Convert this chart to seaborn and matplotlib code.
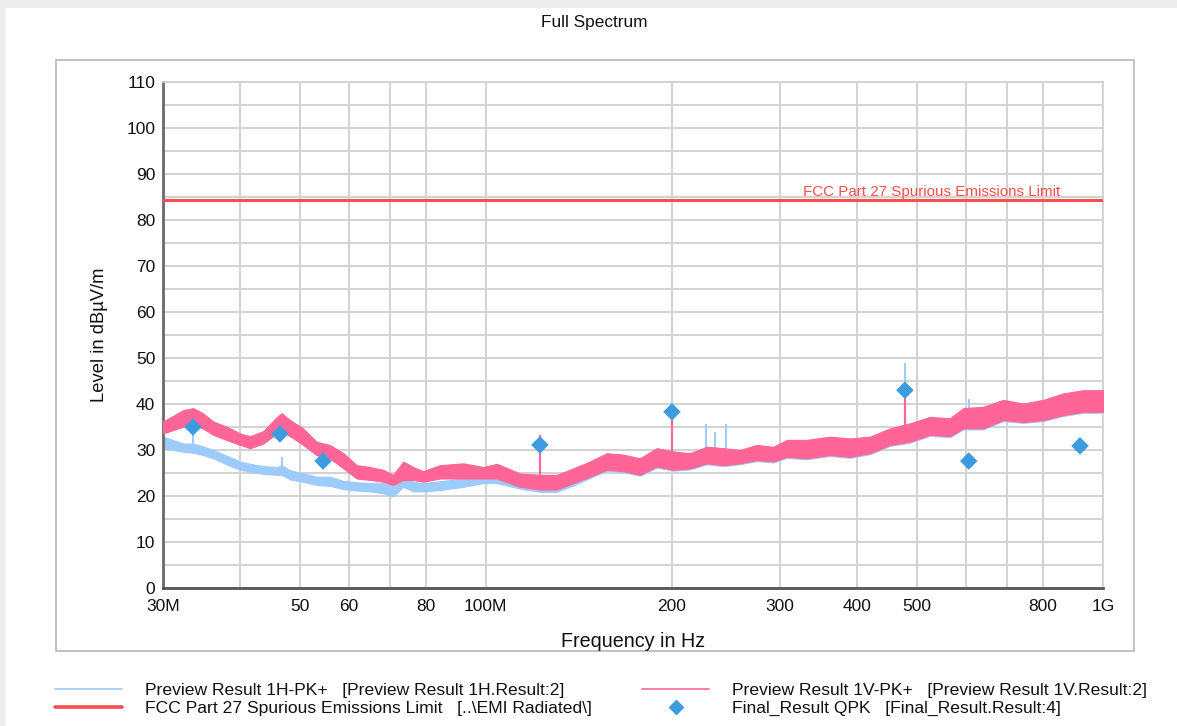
import matplotlib
matplotlib.use("Agg")
import matplotlib.pyplot as plt
from matplotlib.lines import Line2D
from matplotlib.patches import Rectangle
from matplotlib.ticker import FixedLocator, NullFormatter, MultipleLocator
import seaborn as sns
import pandas as pd

# ---------------- data ----------------
freq_mhz = [30, 32.4, 33.6, 34.8, 36.2, 38.0, 40.0, 41.5, 43.6, 45.9, 46.7, 48.2,
            50.6, 53.2, 55.9, 58.8, 61.8, 64.9, 68.2, 70.8, 73.5, 76.3, 79.2, 84.3,
            92.0, 99.1, 104.2, 113.6, 122.4, 130.3, 138.6, 147.5, 157.0, 167.0,
            177.8, 189.2, 201.2, 214.2, 228.0, 242.5, 258.1, 274.7, 292.3, 307.3,
            331.1, 361.1, 389.2, 419.3, 451.7, 486.9, 524.3, 565.0, 593.8, 639.9,
            689.3, 742.7, 800.3, 862.2, 929.0, 1000]

# Preview Result 1H-PK+ (light blue) upper / lower envelope, dBuV/m
h_upper = [32.9, 31.4, 31.4, 30.8, 30.0, 28.8, 27.5, 27.0, 26.5, 26.3, 26.7, 25.6,
           24.9, 24.2, 24.2, 23.3, 23.0, 22.8, 22.8, 22.4, 24.6, 23.1, 22.8, 23.2,
           23.8, 24.2, 24.6, 24.4, 24.0, 24.0, 25.6, 27.2, 29.0, 28.7,
           27.9, 30.1, 29.4, 29.0, 30.4, 30.1, 29.8, 30.8, 30.4, 31.9,
           31.9, 32.6, 32.2, 32.6, 34.4, 35.5, 36.9, 36.6, 38.8, 39.1,
           40.6, 39.8, 40.6, 42.0, 42.7, 42.7]
h_lower = [30.4, 29.6, 29.4, 28.9, 28.2, 26.9, 25.7, 25.3, 24.8, 24.6, 24.6, 23.6,
           23.1, 22.4, 22.2, 21.5, 21.2, 21.0, 20.6, 19.9, 22.0, 21.0, 21.0, 21.3,
           22.0, 22.8, 22.8, 21.6, 20.9, 20.9, 22.3, 23.9, 25.5, 25.2,
           24.4, 26.2, 25.5, 25.8, 26.9, 26.5, 26.9, 27.6, 27.3, 28.3,
           28.0, 28.7, 28.3, 29.1, 30.9, 31.6, 33.1, 32.8, 34.5, 34.5,
           36.3, 35.9, 36.3, 37.4, 38.1, 38.1]

# Preview Result 1V-PK+ (pink) upper / lower envelope, dBuV/m
v_upper = [36.2, 38.7, 39.1, 38.0, 36.2, 35.1, 33.6, 33.0, 34.1, 37.2, 38.0, 36.5,
           34.7, 31.8, 31.1, 29.3, 26.7, 26.3, 25.7, 24.6, 27.5, 26.3, 25.4, 26.7,
           27.1, 26.3, 27.0, 24.9, 24.6, 24.6, 26.0, 27.5, 29.3, 29.0,
           28.2, 30.4, 29.7, 29.3, 30.7, 30.4, 30.0, 31.1, 30.7, 32.2,
           32.2, 32.9, 32.5, 32.9, 34.7, 35.8, 37.2, 36.9, 39.1, 39.4,
           40.9, 40.1, 40.9, 42.3, 43.0, 43.0]
v_lower = [33.6, 35.1, 35.4, 34.7, 33.3, 32.2, 31.1, 30.4, 31.4, 33.6, 34.1, 33.0,
           31.1, 28.9, 28.2, 26.0, 23.8, 23.5, 23.1, 22.4, 23.5, 23.5, 23.1, 23.8,
           23.8, 23.8, 23.8, 22.0, 21.4, 21.4, 22.8, 24.2, 25.7, 25.4,
           24.6, 26.4, 25.7, 26.0, 27.1, 26.7, 27.1, 27.8, 27.5, 28.5,
           28.2, 28.9, 28.5, 29.3, 31.1, 31.8, 33.3, 33.0, 34.7, 34.7,
           36.5, 36.1, 36.5, 37.6, 38.3, 38.3]

# isolated spikes in the preview traces
h_spike_freq = [33.6, 46.7, 227.2, 235.1, 245.0, 477.6, 606.0]
h_spike_base = [30.0, 25.0, 28.0, 28.0, 28.0, 33.0, 36.0]
h_spike_peak = [33.3, 28.5, 35.6, 34.0, 35.6, 48.9, 41.0]
v_spike_freq = [122.4, 200.3, 477.6]
v_spike_base = [23.0, 27.0, 33.0]
v_spike_peak = [33.3, 38.0, 43.0]

# limit line
limit_freq = [30, 1000]
limit_level = [84.3, 84.3]

# Final_Result QPK
qpk_freq = [33.55, 46.4, 54.5, 122.4, 200.3, 477.6, 606.0, 917.7]
qpk_level = [35.0, 33.5, 27.6, 31.1, 38.3, 43.0, 27.6, 30.9]

x_ticks = [30, 40, 50, 60, 70, 80, 100, 200, 300, 400, 500, 600, 700, 800, 1000]
x_tick_labels = ["30M", "", "50", "60", "", "80", "100M", "200", "300", "400",
                 "500", "", "", "800", "1G"]

# ---------------- styling ----------------
sns.set_theme(style="white")
plt.rcParams["font.family"] = ["Liberation Sans", "DejaVu Sans"]

C_H = "#9dcbfb"
C_V = "#ff6697"
C_LIM = "#fb4d4d"
C_QPK = "#3d9be0"
C_GRID = "#d2d2d2"

W, H = 1177, 726
fig = plt.figure(figsize=(W / 100, H / 100), dpi=100, facecolor="white")

# light gray page edges and outer panel frame
fig.patches.append(Rectangle((0, 1 - 8 / H), 1, 8 / H, transform=fig.transFigure,
                             facecolor="#ececec", edgecolor="none", zorder=-3))
fig.patches.append(Rectangle((0, 0), 5 / W, 1, transform=fig.transFigure,
                             facecolor="#ececec", edgecolor="none", zorder=-3))
fig.patches.append(Rectangle((56 / W, 1 - 651 / H), (1134 - 56) / W, (651 - 60) / H,
                             transform=fig.transFigure, facecolor="white",
                             edgecolor="#bdbdbd", linewidth=1.3, zorder=-2))

ax = fig.add_axes([163 / W, 1 - 588 / H, 940 / W, 506 / H])
ax.set_zorder(2)
ax.set_xscale("log")
ax.set_xlim(30, 1000)
ax.set_ylim(0, 110)

# grid
ax.xaxis.set_major_locator(FixedLocator(x_ticks))
ax.xaxis.set_minor_locator(FixedLocator([]))
ax.set_xticks(x_ticks)
ax.set_xticklabels(x_tick_labels)
ax.xaxis.set_minor_formatter(NullFormatter())
ax.yaxis.set_major_locator(MultipleLocator(10))
ax.yaxis.set_minor_locator(MultipleLocator(5))
ax.grid(True, which="major", axis="both", color=C_GRID, linewidth=1.4)
ax.grid(True, which="minor", axis="y", color=C_GRID, linewidth=1.4)
ax.set_axisbelow(True)

# traces as envelope bands
ax.fill_between(freq_mhz, h_lower, h_upper, color=C_H, linewidth=0.8,
                edgecolor=C_H, zorder=2)
ax.vlines(h_spike_freq, h_spike_base, h_spike_peak, color=C_H, linewidth=1.4, zorder=2)
ax.fill_between(freq_mhz, v_lower, v_upper, color=C_V, linewidth=0.8,
                edgecolor=C_V, zorder=3)
ax.vlines(v_spike_freq, v_spike_base, v_spike_peak, color=C_V, linewidth=1.6, zorder=3)

# limit line
lim_df = pd.DataFrame({"f": limit_freq, "l": limit_level})
sns.lineplot(data=lim_df, x="f", y="l", ax=ax, color=C_LIM, linewidth=2.2, zorder=4)
ax.text(851.8, 84.6, "FCC Part 27 Spurious Emissions Limit", color=C_LIM,
        fontsize=10.9, ha="right", va="bottom", zorder=5)

# final QPK markers
qpk_df = pd.DataFrame({"f": qpk_freq, "l": qpk_level})
sns.scatterplot(data=qpk_df, x="f", y="l", ax=ax, marker="D", s=80,
                color=C_QPK, edgecolor="none", zorder=6)

# axes styling
for side in ["top", "right"]:
    ax.spines[side].set_color("#cfcfcf")
    ax.spines[side].set_linewidth(1.2)
ax.spines["left"].set_color("#6a6a6a")
ax.spines["left"].set_linewidth(2)
ax.spines["bottom"].set_color("#555555")
ax.spines["bottom"].set_linewidth(2)
ax.tick_params(axis="both", which="both", direction="inout", color="#333333",
               width=1.2, labelsize=12.5, labelcolor="#111111")
ax.tick_params(axis="y", which="major", length=9, pad=1)
ax.tick_params(axis="y", which="minor", length=9)
ax.tick_params(axis="x", which="major", length=8, pad=4)
ax.set_xlabel("Frequency in Hz", fontsize=14.2, color="#111111", labelpad=13)
ax.set_ylabel("Level in dBµV/m", fontsize=13.2, color="#111111", labelpad=13)

fig.text(594 / W, 1 - 23 / H, "Full Spectrum", ha="center", va="center",
         fontsize=12.4, color="#111111")

# legend (two columns)
h1 = Line2D([], [], color=C_H, linewidth=1.2)
h2 = Line2D([], [], color=C_LIM, linewidth=2.6)
h3 = Line2D([], [], color=C_V, linewidth=1.2)
h4 = Line2D([], [], color=C_QPK, marker="D", linestyle="none", markersize=7)
leg_kw = dict(frameon=False, fontsize=12.6, handlelength=3.83, handletextpad=1.3,
              labelspacing=0.14, borderpad=0, borderaxespad=0, loc="upper left")
leg1 = fig.legend([h1, h2], ["Preview Result 1H-PK+   [Preview Result 1H.Result:2]",
                             "FCC Part 27 Spurious Emissions Limit   [..\\EMI Radiated\\]"],
                  bbox_to_anchor=(55 / W, 1 - 683 / H), **leg_kw)
leg2 = fig.legend([h3, h4], ["Preview Result 1V-PK+   [Preview Result 1V.Result:2]",
                             "Final_Result QPK   [Final_Result.Result:4]"],
                  bbox_to_anchor=(642 / W, 1 - 683 / H), **leg_kw)
for lg in (leg1, leg2):
    for t in lg.get_texts():
        t.set_color("#111111")

fig.savefig("out.png", dpi=100, facecolor=fig.get_facecolor())
